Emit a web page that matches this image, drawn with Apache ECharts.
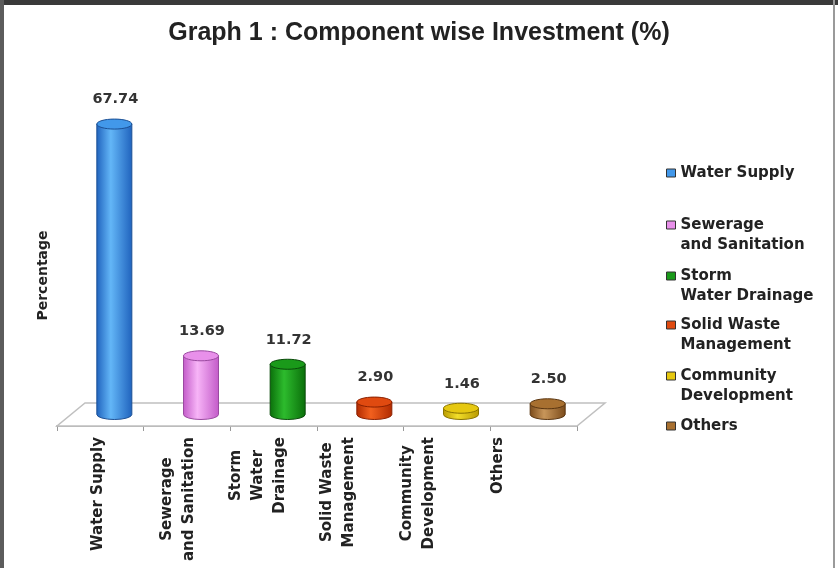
<!DOCTYPE html>
<html><head><meta charset="utf-8">
<script src="https://cdn.jsdelivr.net/npm/echarts@6/dist/echarts.min.js"></script>
<style>html,body{margin:0;padding:0;background:#fff}#c{width:838px;height:568px}</style>
</head><body><div id="c"></div>
<script>
// ---- data ----
const categories = ['Water Supply', 'Sewerage\nand Sanitation', 'Storm\nWater\nDrainage', 'Solid Waste\nManagement', 'Community\nDevelopment', 'Others'];
const legendNames = ['Water Supply', 'Sewerage\nand Sanitation', 'Storm\nWater Drainage', 'Solid Waste\nManagement', 'Community\nDevelopment', 'Others'];
const values = [67.74, 13.69, 11.72, 2.90, 1.46, 2.50];
const titleText = 'Graph 1 : Component wise Investment (%)';
const yAxisName = 'Percentage';

// ---- style ----
const palette = [
  {dark: '#1f62bd', light: '#63b6f7', top: '#4298ea', edge: '#1b4f94'},
  {dark: '#c25ac8', light: '#f7b4f7', top: '#e890ea', edge: '#9a4aa0'},
  {dark: '#0a6e0a', light: '#2dbb2d', top: '#1a9a1a', edge: '#0a4a0a'},
  {dark: '#b02a00', light: '#f2601e', top: '#e04a10', edge: '#8a2000'},
  {dark: '#b89a00', light: '#f2de2a', top: '#e6c810', edge: '#8a7400'},
  {dark: '#7a4a1a', light: '#c8965a', top: '#a87030', edge: '#5a3510'}
];
const DX = 28, DY = 23, BAR_W = 35, RY = 5;
const FONT = '"DejaVu Sans", sans-serif';
const legendIconY = [173, 225, 276, 325, 376, 426];

function cylinder(ci) {
  return function (params, api) {
    const base = api.coord([api.value(0), 0]);
    const top = api.coord([api.value(0), api.value(1)]);
    const cx = base[0] + DX / 2, by = base[1] - DY / 2, ty = top[1] - DY / 2;
    const rx = BAR_W / 2, ry = RY;
    const c = palette[ci];
    const grad = new echarts.graphic.LinearGradient(0, 0, 1, 0, [
      {offset: 0, color: c.dark}, {offset: 0.4, color: c.light}, {offset: 1, color: c.dark}
    ]);
    return {
      type: 'group', children: [
        {type: 'path', shape: {pathData: `M${cx - rx},${ty} L${cx - rx},${by} A${rx},${ry} 0 0 0 ${cx + rx},${by} L${cx + rx},${ty} Z`},
          style: {fill: grad, stroke: c.edge, lineWidth: 1}},
        {type: 'ellipse', shape: {cx: cx, cy: ty, rx: rx, ry: ry}, style: {fill: c.top, stroke: c.edge, lineWidth: 1}},
        {type: 'text', style: {text: api.value(1).toFixed(2), x: cx + 1, y: ty - ry - 12, align: 'center', verticalAlign: 'bottom',
          font: 'bold 14.5px ' + FONT, fill: '#333'}}
      ]
    };
  };
}

const series = [{
  type: 'custom', name: 'floor', silent: true, z: 1, xAxisIndex: 0, yAxisIndex: 0, data: [[0, 0]],
  renderItem: function (params, api) {
    const cs = params.coordSys;
    const x0 = cs.x, x1 = cs.x + cs.width, y0 = cs.y + cs.height;
    return {type: 'polygon', shape: {points: [[x0, y0], [x1, y0], [x1 + DX, y0 - DY], [x0 + DX, y0 - DY]]},
      style: {fill: '#fff', stroke: '#c0c0c0', lineWidth: 1.5}};
  }
}];
values.forEach(function (v, i) {
  series.push({
    type: 'custom', name: legendNames[i], z: 3, xAxisIndex: 0, yAxisIndex: 0,
    itemStyle: {color: palette[i].top},
    data: [[i, v]],
    renderItem: cylinder(i)
  });
});

const legends = legendNames.map(function (n, i) {
  const twoLine = n.indexOf('\n') >= 0;
  return {
    orient: 'vertical', left: 666, top: legendIconY[i] - (twoLine ? 30 : 10), padding: 0,
    itemWidth: 9, itemHeight: 8, itemGap: 0, icon: 'rect', selectedMode: false,
    formatter: function (name) { return twoLine ? ' \n' + name : name; },
    data: [{name: n, itemStyle: {borderColor: '#333', borderWidth: 1}}],
    textStyle: {fontFamily: FONT, fontWeight: 'bold', fontSize: 15, color: '#222', lineHeight: 20}
  };
});

const chart = echarts.init(document.getElementById('c'), null, {renderer: 'canvas'});
chart.setOption({
  backgroundColor: '#fff',
  animation: false,
  title: {text: titleText, left: 'center', top: 19, padding: 0,
    textStyle: {fontFamily: '"Liberation Sans", Arial, sans-serif', fontWeight: 'bold', fontSize: 25, color: '#222', lineHeight: 28}},
  legend: legends,
  grid: [
    {left: 57, right: 261, top: 83, bottom: 142},
    {left: 58, width: 480, top: 83, bottom: 142}
  ],
  xAxis: [
    {type: 'category', gridIndex: 0, data: categories,
      axisLine: {show: true, lineStyle: {color: '#b0b0b0', width: 2}},
      axisTick: {show: true, length: 5, interval: 0, lineStyle: {color: '#999'}},
      axisLabel: {show: false}},
    {type: 'category', gridIndex: 1, data: categories,
      axisLine: {show: false}, axisTick: {show: false},
      axisLabel: {show: true, interval: 0, rotate: 90, margin: 11,
        formatter: function (v) { return v.split('\n').map(function (s) { return '{c|' + s + '}'; }).join('\n'); },
        rich: {c: {align: 'center', fontFamily: FONT, fontWeight: 'bold', fontSize: 15, lineHeight: 22, color: '#222'}},
        fontFamily: FONT, fontWeight: 'bold', fontSize: 15, lineHeight: 22, color: '#222'}}
  ],
  yAxis: [
    {type: 'value', gridIndex: 0, min: 0, max: 80, name: yAxisName, nameLocation: 'middle', nameRotate: 90, nameGap: 7,
      nameTextStyle: {fontFamily: FONT, fontWeight: 'bold', fontSize: 14, color: '#222', padding: [0, 42, 0, 0]},
      axisLine: {show: false}, axisTick: {show: false}, axisLabel: {show: false}, splitLine: {show: false}},
    {type: 'value', gridIndex: 1, min: 0, max: 80, show: false}
  ],
  graphic: [
    {type: 'rect', shape: {x: 0, y: 0, width: 838, height: 5}, style: {fill: '#3a3a3a'}, z: 100},
    {type: 'rect', shape: {x: 0, y: 0, width: 4, height: 568}, style: {fill: '#5c5c5c'}, z: 100},
    {type: 'rect', shape: {x: 833, y: 0, width: 2, height: 568}, style: {fill: '#9a9a9a'}, z: 100}
  ],
  series: series
});
</script>
</body></html>
